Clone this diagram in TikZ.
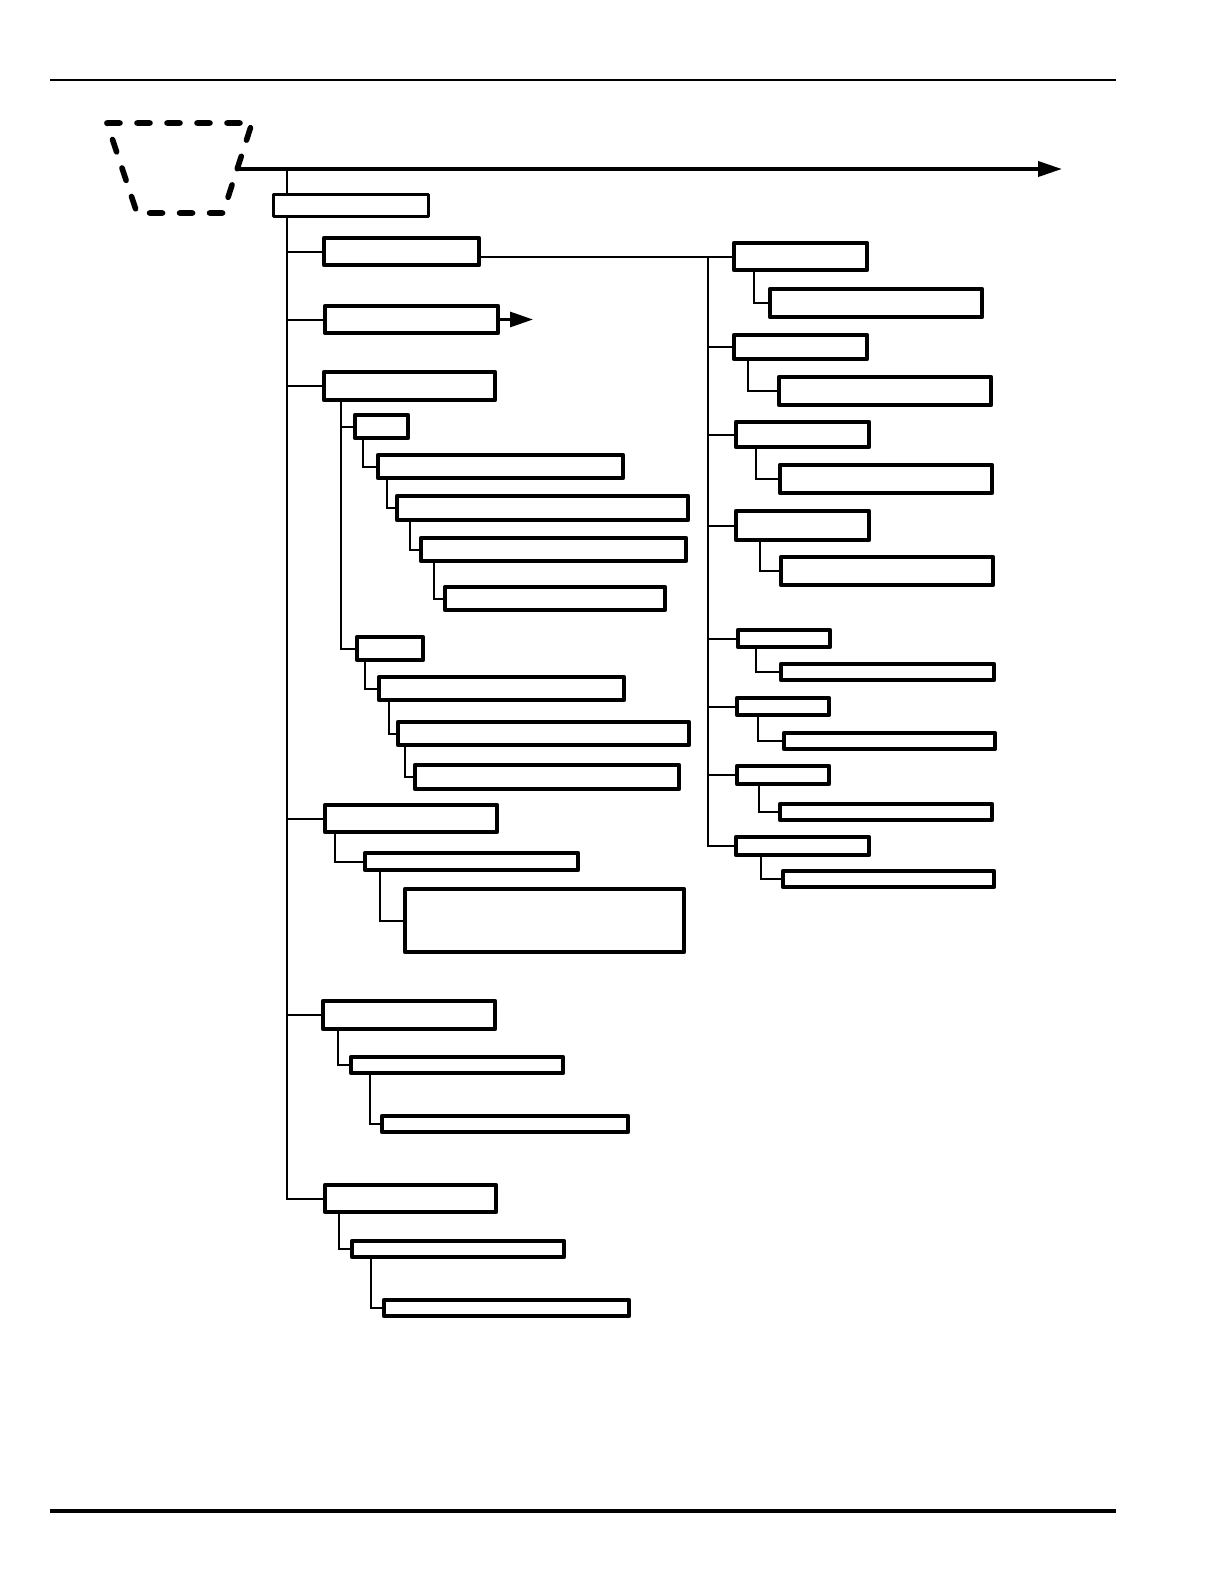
\documentclass[tikz,border=0pt]{standalone}
\usetikzlibrary{arrows.meta,calc,backgrounds}
\tikzset{
  box/.style={draw, fill=white, line width=2pt, line join=round, inner sep=0pt, outer sep=0pt, rectangle},
  thinbox/.style={line width=1.5pt},
  conn/.style={line width=1pt},
}
\newcommand{\bx}[6][]{\node[box,#1,minimum width={(#5-#3)*0.5pt-1.8pt},minimum height={(#6-#4)*0.5pt-1.8pt}] (#2) at ({(#3+#5)/2},{(#4+#6)/2}) {};}
\begin{document}
\begin{tikzpicture}[x=0.5pt,y=-0.5pt]
\useasboundingbox (0,0) rectangle (1224,1584);
% page rules
\draw[line width=1.1pt] (50,80) -- (1116,80);
\draw[line width=2.1pt] (50,1511) -- (1116,1511);
% dashed trapezoid
\draw[line width=2.8pt, line cap=round, line join=round, dash pattern=on 6.5pt off 8.5pt]
  (107,123) -- (252,123) -- (223,213) -- (137,213) -- cycle;
% boxes, left column
\bx[thinbox]{A}{272}{193}{430}{218}
\bx{B}{322}{236}{481}{267}
\bx{C}{323}{304}{500}{335}
\bx{D}{322}{370}{497}{402}
\bx{D1}{353}{413}{410}{440}
\bx{D1a}{376}{453}{625}{480}
\bx{D1b}{395}{494}{690}{522}
\bx{D1c}{419}{536}{688}{563}
\bx{D1d}{443}{585}{667}{612}
\bx{D2}{355}{635}{425}{662}
\bx{D2a}{377}{675}{626}{702}
\bx{D2b}{396}{720}{691}{747}
\bx{D2c}{413}{763}{681}{791}
\bx{E}{323}{803}{499}{834}
\bx{E1}{363}{851}{580}{872}
\bx{E2}{403}{887}{686}{954}
\bx{F}{321}{999}{497}{1031}
\bx{F1}{349}{1055}{565}{1075}
\bx{F2}{380}{1114}{630}{1134}
\bx{G}{323}{1183}{498}{1214}
\bx{G1}{350}{1239}{566}{1259}
\bx{G2}{382}{1298}{631}{1318}
% boxes, right column
\bx{R1}{732}{241}{869}{272}
\bx{R1a}{768}{287}{984}{319}
\bx{R2}{732}{333}{869}{361}
\bx{R2a}{777}{375}{993}{407}
\bx{R3}{734}{420}{871}{449}
\bx{R3a}{778}{463}{994}{495}
\bx{R4}{734}{509}{871}{542}
\bx{R4a}{779}{555}{995}{587}
\bx{R5}{736}{628}{832}{649}
\bx{R5a}{779}{662}{996}{682}
\bx{R6}{735}{696}{831}{717}
\bx{R6a}{782}{731}{997}{751}
\bx{R7}{735}{764}{831}{786}
\bx{R7a}{778}{802}{994}{822}
\bx{R8}{734}{835}{871}{857}
\bx{R8a}{781}{869}{996}{889}
% main arrow
\coordinate (m0) at (237,169);
\coordinate (m1) at (1062,169);
\draw[line width=1.9pt, -{Triangle[length=12pt,width=7.5pt]}] (m0) -- (m1);
% small arrow from C
\coordinate (c1) at (533,320);
\draw[line width=1.5pt, -{Triangle[length=11.5pt,width=7.5pt]}] (C.east) -- (C.east -| c1);
\begin{scope}[on background layer]
  % main trunk
  \coordinate (t0) at (287,169);
  \draw[conn] (t0) |- (G.west);
  \foreach \n in {B,C,D,E,F} \draw[conn] (\n.west -| t0) -- (\n.west);
  % D subtree
  \draw[conn] ($(D.south west)+(17,0)$) |- (D2.west);
  \draw[conn] ($(D.south west)+(17,0)$) |- (D1.west);
  \draw[conn] ($(D1.south west)+(8,0)$) |- (D1a.west);
  \draw[conn] ($(D1a.south west)+(9,0)$) |- (D1b.west);
  \draw[conn] ($(D1b.south west)+(13,0)$) |- (D1c.west);
  \draw[conn] ($(D1c.south west)+(13,0)$) |- (D1d.west);
  \draw[conn] ($(D2.south west)+(8,0)$) |- (D2a.west);
  \draw[conn] ($(D2a.south west)+(10,0)$) |- (D2b.west);
  \draw[conn] ($(D2b.south west)+(7,0)$) |- (D2c.west);
  % E, F, G subtrees
  \draw[conn] ($(E.south west)+(10,0)$) |- (E1.west);
  \draw[conn] ($(E1.south west)+(15,0)$) |- (E2.west);
  \draw[conn] ($(F.south west)+(15,0)$) |- (F1.west);
  \draw[conn] ($(F1.south west)+(19,0)$) |- (F2.west);
  \draw[conn] ($(G.south west)+(14,0)$) |- (G1.west);
  \draw[conn] ($(G1.south west)+(19,0)$) |- (G2.west);
  % B to right column
  \coordinate (rt) at (708,256);
  \draw[conn] (R1.west -| B.east) -- (R1.west);
  \draw[conn] (rt) |- (R8.west);
  \foreach \n in {R2,R3,R4,R5,R6,R7} \draw[conn] (\n.west -| rt) -- (\n.west);
  \draw[conn] ($(R1.south west)+(20,0)$) |- (R1a.west);
  \draw[conn] ($(R2.south west)+(14,0)$) |- (R2a.west);
  \draw[conn] ($(R3.south west)+(20,0)$) |- (R3a.west);
  \draw[conn] ($(R4.south west)+(24,0)$) |- (R4a.west);
  \draw[conn] ($(R5.south west)+(18,0)$) |- (R5a.west);
  \draw[conn] ($(R6.south west)+(21,0)$) |- (R6a.west);
  \draw[conn] ($(R7.south west)+(22,0)$) |- (R7a.west);
  \draw[conn] ($(R8.south west)+(25,0)$) |- (R8a.west);
\end{scope}
\end{tikzpicture}
\end{document}
